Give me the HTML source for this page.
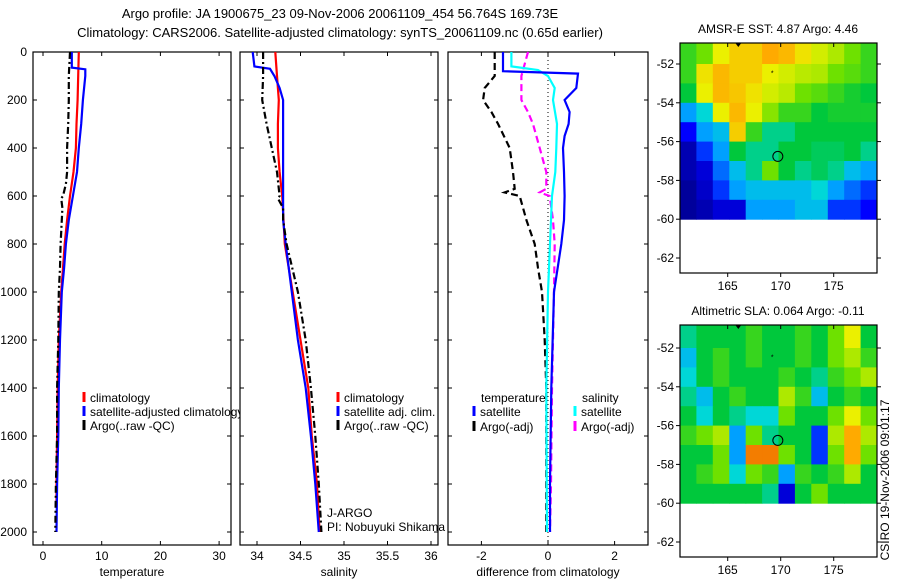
<!DOCTYPE html>
<html><head><meta charset="utf-8">
<style>
html,body{margin:0;padding:0;background:#fff;}
svg{display:block;font-family:"Liberation Sans",sans-serif;}
</style></head>
<body>
<svg id="fig" width="900" height="580" viewBox="0 0 900 580" xmlns="http://www.w3.org/2000/svg">
<text x="340" y="18" font-size="13" text-anchor="middle">Argo profile: JA 1900675_23 09-Nov-2006 20061109_454 56.764S 169.73E</text>
<text x="340" y="37" font-size="13" text-anchor="middle">Climatology: CARS2006. Satellite-adjusted climatology: synTS_20061109.nc (0.65d earlier)</text>
<text transform="translate(889,480) rotate(-90)" font-size="12" text-anchor="middle">CSIRO 19-Nov-2006 09:01:17</text>
</svg>
<script>
// ---------- data ----------
const depthTicks = [0,200,400,600,800,1000,1200,1400,1600,1800,2000];
const tempTicks = [0,10,20,30];
const salTicks = [34,34.5,35,35.5,36];
const diffTicks = [-2,0,2];

const tClimDepth = [0,100,200,300,400,500,600,700,800,900,1000,1200,1400,1600,1800,1870];
const tClimVal   = [6.1,6.0,5.9,5.7,5.6,5.2,4.6,4.1,3.7,3.4,3.1,2.7,2.5,2.4,2.3,2.3];
const tSatDepth  = [0,65,72,100,200,300,400,500,600,700,800,900,1000,1200,1400,1600,1800,2000];
const tSatVal    = [4.9,4.9,7.2,7.2,6.8,6.5,6.1,5.8,5.1,4.4,3.9,3.6,3.2,2.9,2.7,2.6,2.4,2.3];
const tArgoDepth = [0,100,200,300,400,500,550,600,610,650,700,800,900,1000,1200,1400,1600,1800,2000];
const tArgoVal   = [4.6,4.4,4.4,4.3,4.1,4.1,3.9,3.4,3.1,3.3,3.2,3.0,2.9,2.7,2.6,2.4,2.4,2.2,2.1];

const sClimDepth = [0,100,200,300,400,500,600,800,1000,1200,1400,1600,1800,2000];
const sClimVal   = [34.21,34.23,34.25,34.24,34.24,34.26,34.29,34.32,34.41,34.5,34.59,34.63,34.69,34.72];
const sSatDepth  = [0,60,70,100,150,200,300,500,700,800,1000,1200,1400,1600,1800,2000];
const sSatVal    = [33.95,33.97,34.15,34.2,34.26,34.3,34.3,34.3,34.3,34.33,34.4,34.47,34.56,34.62,34.67,34.71];
const sArgoDepth = [0,100,200,300,400,500,600,610,650,700,800,1000,1200,1400,1600,1800,2000];
const sArgoVal   = [34.07,34.07,34.06,34.11,34.17,34.23,34.26,34.24,34.3,34.3,34.34,34.47,34.56,34.62,34.67,34.71,34.74];

const dTSatDepth = [0,80,90,150,200,250,300,350,400,500,600,700,800,1000,1400,1800,2000];
const dTSatVal   = [-1.35,-1.35,0.9,0.85,0.5,0.65,0.62,0.5,0.45,0.48,0.5,0.48,0.4,0.18,0.1,0.06,0.06];
const dTArgoDepth = [0,100,150,200,250,300,400,500,570,585,600,700,800,900,1000,1200,1400,1800,2000];
const dTArgoVal   = [-1.6,-1.6,-1.9,-1.95,-1.7,-1.5,-1.15,-1.05,-1.0,-1.3,-0.85,-0.65,-0.4,-0.3,-0.18,-0.1,-0.05,-0.05,-0.05];
const dSSatDepth = [0,60,75,100,150,200,300,400,500,600,800,1000,1400,2000];
const dSSatVal   = [-1.1,-1.1,-0.3,0,0.2,0.15,0.27,0.25,0.22,0.12,0.06,0.0,-0.05,-0.03];
const dSArgoDepth = [0,50,100,200,250,300,400,500,570,585,600,700,800,1000,1400,1800,2000];
const dSArgoVal   = [-0.6,-0.7,-0.8,-0.8,-0.6,-0.45,-0.25,-0.05,-0.05,-0.25,0.05,0.15,0.2,0.18,0.12,0.09,0.06];

// maps: 12 lon cols x 9 lat rows (lat -51..-60), value 0..1 (relative colour level)
const sstGrid = [
[.55,.6,.7,.75,.75,.8,.78,.72,.68,.65,.6,.55],
[.55,.72,.78,.75,.75,.7,.68,.66,.65,.6,.58,.55],
[.5,.7,.78,.76,.72,.68,.66,.6,.58,.55,.52,.5],
[.3,.4,.7,.78,.7,.62,.55,.55,.5,.52,.52,.52],
[.15,.3,.35,.75,.55,.45,.45,.5,.5,.5,.5,.5],
[.05,.2,.3,.5,.45,.45,.5,.5,.48,.48,.5,.45],
[.05,.1,.25,.35,.45,.6,.5,.45,.48,.45,.35,.3],
[.02,.08,.2,.3,.35,.35,.35,.35,.4,.3,.25,.2],
[.02,.05,.1,.1,.3,.3,.3,.35,.35,.2,.2,.15]];
const slaGrid = [
[.45,.5,.5,.5,.55,.5,.5,.55,.5,.6,.7,.5],
[.35,.5,.55,.5,.55,.5,.5,.55,.5,.6,.65,.55],
[.4,.5,.55,.5,.5,.5,.55,.5,.45,.55,.6,.65],
[.45,.35,.5,.55,.5,.5,.65,.55,.35,.5,.55,.5],
[.5,.4,.5,.45,.4,.4,.6,.5,.5,.6,.7,.6],
[.55,.6,.65,.3,.6,.45,.5,.5,.2,.65,.8,.65],
[.5,.5,.6,.3,.85,.85,.6,.5,.2,.6,.8,.6],
[.5,.55,.6,.4,.6,.55,.3,.55,.5,.55,.65,.5],
[.5,.5,.5,.5,.5,.45,.1,.5,.6,.5,.5,.5]];
const latTicks = [-52,-54,-56,-58,-60,-62];
const lonTicks = [165,170,175];
const argoLon = 169.73, argoLat = -56.764;

// ---------- drawing ----------
const NS='http://www.w3.org/2000/svg';
const svg=document.getElementById('fig');
function mk(tag,attrs,parent){const e=document.createElementNS(NS,tag);for(const k in attrs)e.setAttribute(k,attrs[k]);(parent||svg).appendChild(e);return e;}
const yD = d => 52 + d*0.24;
const T0=52,B0=545;

function panel(name,L,R,xs,ticks,fmt,label){
  const g=mk('g',{});
  
  
  const fr=mk('rect',{x:L,y:T0,width:R-L,height:B0-T0,fill:'#fff',stroke:'#000','stroke-width':1.2},g);
  
  
  depthTicks.forEach(d=>{
    mk('line',{x1:L,x2:L+4,y1:yD(d),y2:yD(d),stroke:'#000'},g);
    mk('line',{x1:R,x2:R-4,y1:yD(d),y2:yD(d),stroke:'#000'},g);
    if(L<40){const t=mk('text',{x:L-6,y:yD(d)+4,'font-size':12,'text-anchor':'end'},g);t.textContent=d;
      
      }
  });
  ticks.forEach(v=>{
    const x=xs(v);
    mk('line',{x1:x,x2:x,y1:T0,y2:T0+4,stroke:'#000'},g);
    mk('line',{x1:x,x2:x,y1:B0,y2:B0-4,stroke:'#000'},g);
    const t=mk('text',{x:x,y:B0+15,'font-size':12,'text-anchor':'middle'},g);t.textContent=fmt(v);
    
    
  });
  const xl=mk('text',{x:(L+R)/2,y:B0+31,'font-size':12,'text-anchor':'middle'},g);xl.textContent=label;
  
  
  return g;
}
function line(name,depths,vals,xs,color,dash,w){
  const pts=depths.map((d,i)=>xs(vals[i]).toFixed(1)+','+yD(d).toFixed(1)).join(' ');
  const p=mk('polyline',{points:pts,fill:'none',stroke:color,'stroke-width':w||2.2,'stroke-dasharray':dash||'none'});
  
  
}
function legend(x,y,color,text){
  mk('line',{x1:x,x2:x,y1:y-10,y2:y,stroke:color,'stroke-width':3});
  const t=mk('text',{x:x+6,y:y,'font-size':12});t.textContent=text;
  
  
}
const DASHA='7,3,2,3', DASHM='7,4';

// panel 1
const xT=v=>43+v*5.87;
panel('temperature-panel',33,231,xT,tempTicks,v=>v,'temperature');
line('temp-climatology',tClimDepth,tClimVal,xT,'#ff0000');
line('temp-satellite-adjusted',tSatDepth,tSatVal,xT,'#0000ff');
line('temp-argo',tArgoDepth,tArgoVal,xT,'#000',DASHA);
legend(84,402,'#ff0000','climatology');
legend(84,416,'#0000ff','satellite-adjusted climatology');
legend(84,430,'#000','Argo(..raw -QC)');

// panel 2
const xS=v=>257+(v-34)*87;
panel('salinity-panel',240,438,xS,salTicks,v=>v,'salinity');
line('sal-climatology',sClimDepth,sClimVal,xS,'#ff0000');
line('sal-satellite-adjusted',sSatDepth,sSatVal,xS,'#0000ff');
line('sal-argo',sArgoDepth,sArgoVal,xS,'#000',DASHA);
legend(338,402,'#ff0000','climatology');
legend(338,416,'#0000ff','satellite adj. clim.');
legend(338,430,'#000','Argo(..raw -QC)');
{const t=mk('text',{x:327,y:517,'font-size':12});t.textContent='J-ARGO';
 const u=mk('text',{x:327,y:531,'font-size':12});u.textContent='PI: Nobuyuki Shikama';}

// panel 3
const xDf=v=>548+v*33.3;
panel('difference-panel',448,648,xDf,diffTicks,v=>v,'difference from climatology');
mk('line',{x1:548,x2:548,y1:T0,y2:B0,stroke:'#000','stroke-dasharray':'1,3'});
line('diff-temp-argo',dTArgoDepth,dTArgoVal,xDf,'#000',DASHM);
line('diff-sal-argo',dSArgoDepth,dSArgoVal,xDf,'#ff00ff',DASHM);
line('diff-sal-satellite',dSSatDepth,dSSatVal,xDf,'#00ffff');
line('diff-temp-satellite',dTSatDepth,dTSatVal,xDf,'#0000ff');
{const t=mk('text',{x:481,y:402,'font-size':12});t.textContent='temperature';
 const u=mk('text',{x:582,y:402,'font-size':12});u.textContent='salinity';}
legend(474,416,'#0000ff','satellite');
legend(474,431,'#000','Argo(-adj)');
legend(575,416,'#00ffff','satellite');
legend(575,431,'#ff00ff','Argo(-adj)');

// maps
const paletteStops=[0,.15,.3,.4,.5,.6,.7,.8,.9,1];
const paletteRGB=[[0,0,140],[0,0,255],[0,160,255],[0,215,215],[0,200,60],[110,225,0],[235,240,0],[255,170,0],[230,80,0],[180,0,0]];
function colour(v){
  v=Math.max(0,Math.min(1,v));
  let i=0; while(i<paletteStops.length-2 && v>paletteStops[i+1]) i++;
  const f=(v-paletteStops[i])/(paletteStops[i+1]-paletteStops[i]);
  const a=paletteRGB[i], b=paletteRGB[i+1];
  return 'rgb('+a.map((c,k)=>Math.round(c+(b[k]-c)*f)).join(',')+')';
}
function map(name,top,bottom,lat52y,grid,title){
  const L=680,R=877;
  const yL=lat=>lat52y+(-52-lat)*19.4;
  const xL=lon=>680+(lon-160.5)*10.6;
  const g=mk('g',{});
  
  
  const tt=mk('text',{x:778,y:top-10,'font-size':12,'text-anchor':'middle'},g);tt.textContent=title;
  
  
  const cw=(R-L)/grid[0].length;
  grid.forEach((row,i)=>row.forEach((v,j)=>{
    const y0=i===0?top:yL(-51-i), y1=yL(-52-i);
    const r=mk('rect',{x:(L+j*cw).toFixed(1),y:y0.toFixed(1),width:(cw+0.5).toFixed(1),height:(y1-y0+0.5).toFixed(1),fill:colour(v)},g);
    
    
  }));
  mk('rect',{x:L,y:top,width:R-L,height:bottom-top,fill:'none',stroke:'#000','stroke-width':1.2},g);
  latTicks.forEach(lat=>{const y=yL(lat);
    mk('line',{x1:L,x2:L-4,y1:y,y2:y,stroke:'#000'},g);mk('line',{x1:R,x2:R+4,y1:y,y2:y,stroke:'#000'},g);
    const t=mk('text',{x:L-6,y:y+4,'font-size':12,'text-anchor':'end'},g);t.textContent=lat;
    
    });
  lonTicks.forEach(lon=>{const x=xL(lon);
    mk('line',{x1:x,x2:x,y1:top,y2:top+4,stroke:'#000'},g);mk('line',{x1:x,x2:x,y1:bottom,y2:bottom+4,stroke:'#000'},g);
    const t=mk('text',{x:x,y:bottom+17,'font-size':12,'text-anchor':'middle'},g);t.textContent=lon;
    
    });
  mk('path',{d:'M'+(xL(166)-3)+','+top+' l6,0 l-3,4 z',fill:'#000'},g);
  mk('text',{x:xL(169.2),y:yL(-52.6),'font-size':7,'text-anchor':'middle'},g).textContent='*';
  const c=mk('circle',{cx:xL(argoLon),cy:yL(argoLat),r:5,fill:'none',stroke:'#000','stroke-width':1},g);
  
  
}
map('sst-map',43,273,64,sstGrid,'AMSR-E SST: 4.87  Argo: 4.46');
map('sla-map',325,557,348,slaGrid,'Altimetric SLA: 0.064  Argo: -0.11');
</script>
</body></html>
